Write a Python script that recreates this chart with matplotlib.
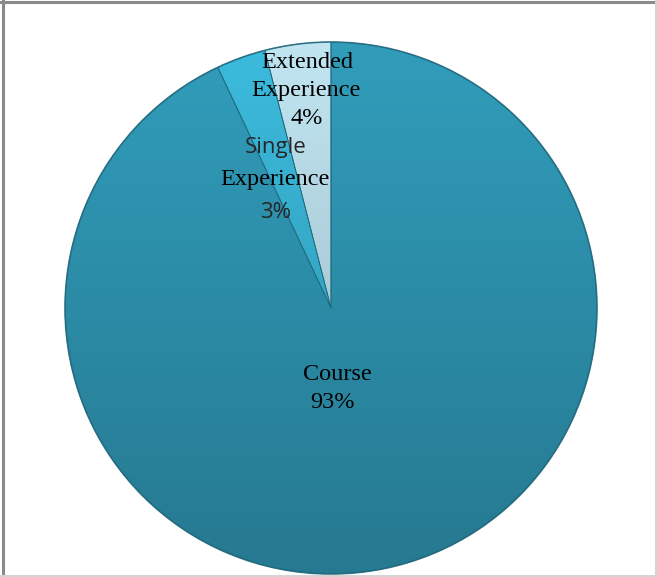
import matplotlib.pyplot as plt
import numpy as np
from matplotlib.colors import to_rgb
from matplotlib.lines import Line2D

# share of placements by type
categories = ["Extended\nExperience", "Single\nExperience", "Course"]
shares = [4, 3, 93]
colors = ["#b9dde9", "#39b4d5", "#2f97b4"]

W, H = 657, 577
cx, cy, rad = 331, 308, 266  # pie centre / radius in pixels

fig = plt.figure(figsize=(W / 100, H / 100), dpi=100)
ax = fig.add_axes([0, 0, 1, 1])

wedges, _ = ax.pie(shares, colors=colors, startangle=90, counterclock=True,
                   radius=1, center=(0, 0), frame=True,
                   wedgeprops=dict(edgecolor="#1f6a80", linewidth=0.6))
ax.set_xlim(-cx / rad, (W - cx) / rad)
ax.set_ylim(-(H - cy) / rad, cy / rad)
ax.set_aspect("equal")
ax.axis("off")

# vertical shading: lighter at the top, darker towards the bottom
ys = np.linspace(1, -1, 300)
fade = np.interp(ys, [-1, 1], [0.80, 1.04])
for w, c in zip(wedges, colors):
    base = np.array(to_rgb(c))
    img = np.clip(fade[:, None, None] * base[None, None, :], 0, 1)
    img = np.repeat(img, 2, axis=1)
    im = ax.imshow(img, extent=(-1, 1, -1, 1), origin="upper", zorder=2,
                   interpolation="bilinear")
    im.set_clip_path(w)

# edge shadow around the disc
ax.add_patch(plt.Circle((0, 0), 1.0, fill=False, edgecolor="#1d5f72",
                        linewidth=1.2, zorder=3, alpha=0.7))
for w in wedges:
    w.set_zorder(4)
    w.set_facecolor("none")

serif = "Liberation Serif"
sans = "Open Sans"
fs = 17.5


def px(x, y):
    return (x - cx) / rad, (cy - y) / rad


ax.text(*px(307, 62), "Extended", family=serif, fontsize=fs, ha="center", va="center", zorder=5)
ax.text(*px(306, 90), "Experience", family=serif, fontsize=fs, ha="center", va="center", zorder=5)
ax.text(*px(307, 118), f"{shares[0]}%", family=serif, fontsize=fs, ha="center", va="center", zorder=5)

ax.text(*px(276, 147), "Single", family=sans, fontsize=16, color="#262626",
        ha="center", va="center", zorder=5)
ax.text(*px(275, 179), "Experience", family=serif, fontsize=fs, ha="center", va="center", zorder=5)
ax.text(*px(276, 212), f"{shares[1]}%", family=sans, fontsize=16, color="#262626",
        ha="center", va="center", zorder=5)

ax.text(*px(337, 374), "Course", family=serif, fontsize=fs, ha="center", va="center", zorder=5)
ax.text(*px(333, 402), f"{shares[2]}%", family=serif, fontsize=fs, ha="center", va="center", zorder=5)

# chart frame
fig.add_artist(Line2D([3 / W, 3 / W], [0, 1], color="#8a8a8a", linewidth=2.2))
fig.add_artist(Line2D([0, 1], [1 - 1.5 / H, 1 - 1.5 / H], color="#8a8a8a", linewidth=2.2))
fig.add_artist(Line2D([0, 1], [1.5 / H, 1.5 / H], color="#d4d4d4", linewidth=1.5))
fig.add_artist(Line2D([1 - 1.5 / W, 1 - 1.5 / W], [0, 1], color="#d4d4d4", linewidth=1.5))

fig.savefig("out.png", dpi=100)
